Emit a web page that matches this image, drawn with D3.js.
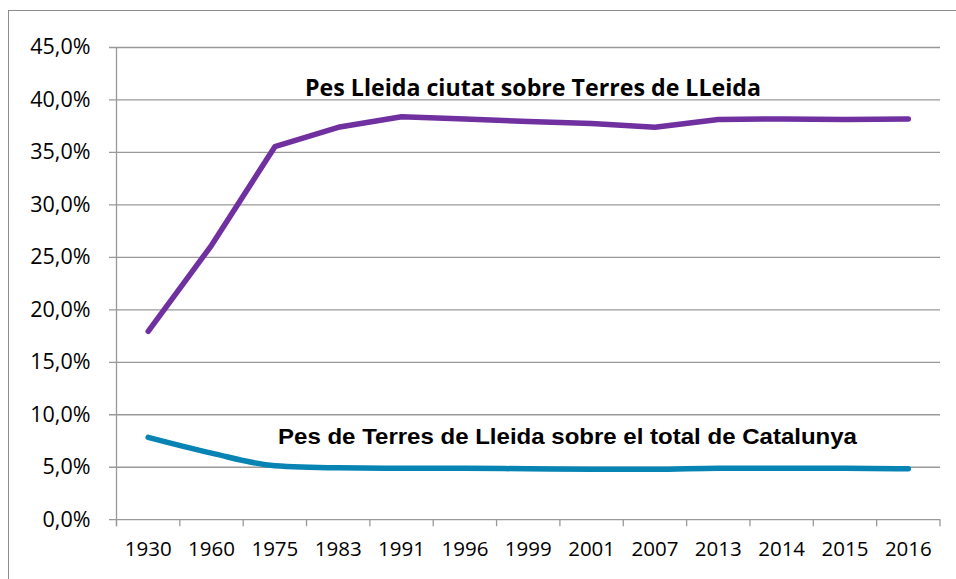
<!DOCTYPE html>
<html>
<head>
<meta charset="utf-8">
<script src="https://cdn.jsdelivr.net/npm/d3@7"></script>
<style>
  body { margin: 0; background: #fff; }
  svg { display: block; }
</style>
</head>
<body>
<div id="chart"></div>
<script>
// years on the category axis
const years = ['1930', '1960', '1975', '1983', '1991', '1996', '1999', '2001', '2007', '2013', '2014', '2015', '2016'];

// Pes Lleida ciutat sobre Terres de Lleida (%)
const lleidaCiutat = [17.9, 26.1, 35.5, 37.35, 38.35, 38.15, 37.9, 37.7, 37.35, 38.1, 38.15, 38.1, 38.15];

// Pes de Terres de Lleida sobre el total de Catalunya (%)
const terresLleida = [7.8, 6.3, 5.1, 4.9, 4.85, 4.85, 4.8, 4.75, 4.75, 4.85, 4.85, 4.85, 4.8];

const yTicks = [0, 5, 10, 15, 20, 25, 30, 35, 40, 45];

const width = 956, height = 579;
const margin = {top: 47, right: 16, bottom: 60, left: 116.5};

const svg = d3.select('#chart').append('svg')
  .attr('width', width)
  .attr('height', height);

// outer frame
svg.append('rect')
  .attr('x', 8.5).attr('y', 10.5)
  .attr('width', 1000).attr('height', 1000)
  .attr('fill', 'none')
  .attr('stroke', '#8c8c8c')
  .attr('stroke-width', 1);

const x = d3.scaleBand()
  .domain(years)
  .range([margin.left, width - margin.right])
  .padding(0);

const y = d3.scaleLinear()
  .domain([0, 45])
  .range([height - margin.bottom + 0.2, margin.top]);

const fmt = d3.formatLocale({decimal: ',', thousands: '.', grouping: [3], currency: ['', '€']}).format('.1f');

// horizontal gridlines + y labels
const yAxis = d3.axisLeft(y)
  .tickValues(yTicks)
  .tickSize(-(width - margin.right - margin.left))
  .tickPadding(26)
  .tickFormat(d => fmt(d) + '%');

const gy = svg.append('g')
  .attr('transform', `translate(${margin.left},0)`)
  .call(yAxis);
gy.select('.domain').remove();
gy.selectAll('.tick line')
  .attr('x1', -7.5)
  .attr('stroke', '#999')
  .attr('stroke-width', 1.3);
gy.selectAll('.tick text')
  .attr('font-family', 'Open Sans, sans-serif')
  .attr('font-size', 21.5)
  .attr('fill', '#000');

// y axis line
svg.append('line')
  .attr('x1', margin.left).attr('x2', margin.left)
  .attr('y1', y(45)).attr('y2', y(0) + 7)
  .attr('stroke', '#999').attr('stroke-width', 1.3);

// x labels
const xAxis = d3.axisBottom(x).tickSize(0).tickPadding(22);
const gx = svg.append('g')
  .attr('transform', `translate(0,${y(0)})`)
  .call(xAxis);
gx.select('.domain').remove();
gx.selectAll('.tick text')
  .attr('font-family', 'Open Sans, sans-serif')
  .attr('font-size', 20.5)
  .attr('fill', '#000');

// x ticks at category boundaries
const bounds = years.map(d => x(d)).concat([x(years[years.length - 1]) + x.bandwidth()]);
svg.append('g').selectAll('line')
  .data(bounds)
  .enter()
  .append('line')
  .attr('x1', d => d).attr('x2', d => d)
  .attr('y1', y(0)).attr('y2', y(0) + 7)
  .attr('stroke', '#999').attr('stroke-width', 1.3);

const cx = (d, i) => x(years[i]) + x.bandwidth() / 2;

const linePurple = d3.line()
  .x(cx)
  .y(d => y(d));

const lineBlue = d3.line()
  .x(cx)
  .y(d => y(d))
  .curve(d3.curveMonotoneX);

svg.append('path')
  .datum(terresLleida)
  .attr('d', lineBlue)
  .attr('fill', 'none')
  .attr('stroke', '#0784b4')
  .attr('stroke-width', 5.5)
  .attr('stroke-linecap', 'round')
  .attr('stroke-linejoin', 'round');

svg.append('path')
  .datum(lleidaCiutat)
  .attr('d', linePurple)
  .attr('fill', 'none')
  .attr('stroke', '#7030a0')
  .attr('stroke-width', 5.5)
  .attr('stroke-linecap', 'round')
  .attr('stroke-linejoin', 'round');

// series labels
svg.append('text')
  .attr('x', 305).attr('y', 96)
  .attr('font-family', 'Open Sans, sans-serif')
  .attr('font-weight', 'bold')
  .attr('font-size', 24)
  .attr('textLength', 456)
  .attr('lengthAdjust', 'spacingAndGlyphs')
  .attr('fill', '#000')
  .text('Pes Lleida ciutat sobre Terres de LLeida');

svg.append('text')
  .attr('x', 278).attr('y', 444)
  .attr('font-family', 'Liberation Sans, Arial, sans-serif')
  .attr('font-weight', 'bold')
  .attr('font-size', 21.5)
  .attr('textLength', 579)
  .attr('lengthAdjust', 'spacingAndGlyphs')
  .attr('fill', '#000')
  .text('Pes de Terres de Lleida sobre el total de Catalunya');
</script>
</body>
</html>
